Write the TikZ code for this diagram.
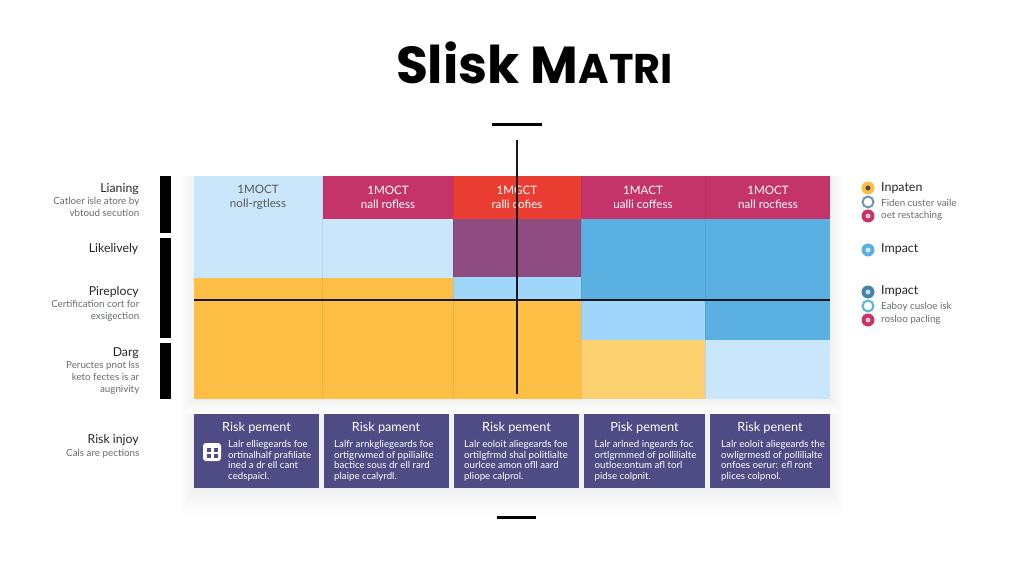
\documentclass[tikz,border=0pt]{standalone}
\usepackage{fontspec}
\setmainfont{Lato}
\newfontfamily\titlefont{Poppins}
\usetikzlibrary{calc}
\definecolor{paleblue}{HTML}{C9E6FA}
\definecolor{midblue}{HTML}{A0D6F9}
\definecolor{deepblue}{HTML}{5BB0E2}
\definecolor{crimson}{HTML}{C43468}
\definecolor{hotred}{HTML}{EA3E33}
\definecolor{plum}{HTML}{8F4C80}
\definecolor{amber}{HTML}{FCBE45}
\definecolor{sand}{HTML}{FBD06F}
\definecolor{slate}{HTML}{4F4B84}
\definecolor{greytext}{HTML}{666A70}
\tikzset{
    cell/.style={draw=none,fill=#1},
    head/.style={font=\fontsize{11.6}{13.8}\selectfont,text=white,align=center,inner sep=0pt},
    card/.style={fill=slate,draw=none},
    cardhead/.style={font=\fontsize{12.7}{14}\selectfont,text=white,inner sep=0pt},
    cardtext/.style={font=\fontsize{9.7}{10.7}\selectfont,text=white,align=left,inner sep=0pt,anchor=north west},
    lefthead/.style={font=\fontsize{12.3}{13}\selectfont,text=black!85,inner sep=0pt,anchor=east},
    lefttext/.style={font=\fontsize{9.8}{12}\selectfont,text=greytext,align=right,inner sep=0pt,anchor=north east},
    righthead/.style={font=\fontsize{12.4}{13}\selectfont,text=black!85,inner sep=0pt,anchor=west},
    righttext/.style={font=\fontsize{9.8}{12}\selectfont,text=greytext,inner sep=0pt,anchor=west},
    badge/.style={circle,draw=none,fill=#1,minimum size=13pt,inner sep=0pt},
    ringbadge/.style={circle,draw=#1,fill=white,line width=2pt,minimum size=11pt,inner sep=0pt},
    sidebar/.style={fill=black,draw=none},
    softshade/.style={fill=black,opacity=0.004,draw=none},
}
\begin{document}
\begin{tikzpicture}[x=1pt,y=-1pt]
    \useasboundingbox (0,0) rectangle (1024,585);

    % title
    \node[inner sep=0pt,font=\titlefont\bfseries\fontsize{52}{54}\selectfont] (title) at (534.5,63)
        {Slisk M{\fontsize{41.5}{54}\selectfont ATRI}};
    \draw[line width=2.5pt] (492,124.5) -- (542,124.5);
    \draw[line width=2.5pt] (497,517.5) -- (536,517.5);

    % left bars
    \foreach \ya/\yb in {176/233,238/338,343/399}
        \fill[sidebar] (160,\ya) rectangle (170.5,\yb);

    % soft shade
    \foreach \g in {1,...,14} {
        \fill[softshade] (193.5-\g,176) rectangle (830+\g,399+\g);
        \fill[softshade] (193.5-\g,414) rectangle (830+\g,488+2*\g);
    }

    % matrix cells: x1/y1/x2/y2/colour
    \foreach \xa/\ya/\xb/\yb/\col in {
        193.5/176/322.5/278/paleblue, 193.5/278/322.5/399/amber,
        322.5/176/453/219/crimson, 322.5/219/453/278/paleblue, 322.5/278/453/399/amber,
        453/176/581/219/hotred, 453/219/581/277/plum, 453/277/581/299/midblue, 453/299/581/399/amber,
        581/176/705/219/crimson, 581/219/705/299/deepblue, 581/299/705/340/midblue, 581/340/705/399/sand,
        705/176/830/219/crimson, 705/219/830/340/deepblue, 705/340/830/399/paleblue}
        \fill[cell=\col] (\xa,\ya) rectangle (\xb,\yb);
    \foreach \x in {322.5,453,581,705}
        \draw[black,opacity=0.07,line width=0.5pt] (\x,176) -- (\x,399);

    % heads
    \node[head,text=black!65] (h1) at (258,197.5) {1MOCT\\noll-rgtless};
    \node[head] (h2) at (388,197.5) {1MOCT\\nall rofless};
    \node[head] (h3) at (517,197.5) {1MGCT\\ralli cofies};
    \node[head] (h4) at (643,197.5) {1MACT\\ualli coffess};
    \node[head] (h5) at (768,197.5) {1MOCT\\nall rocfiess};

    % cross lines
    \draw[line width=2pt,black!90] (193.5,299.5) -- (830,299.5);
    \draw[line width=2pt,black!90] (517,140) -- (517,394);

    % left labels
    \node[lefthead] (lianing) at (139,189) {Lianing};
    \node[lefttext] (lianingtxt) at (139.5,197) {Catloer isle atore by\\vbtoud secution};
    \node[lefthead] (likely) at (138.5,249) {Likelively};
    \node[lefthead] (pireplocy) at (139,292) {Pireplocy};
    \node[lefttext] (pireplocytxt) at (139.5,300) {Certification cort for\\exsigection};
    \node[lefthead] (darg) at (139,353) {Darg};
    \node[lefttext] (dargtxt) at (139.5,361) {Peructes pnot lss\\keto fectes is ar\\augnivity};
    \node[lefthead] (injoy) at (139,440) {Risk injoy};
    \node[lefttext] (injoytxt) at (139.5,449) {Cals are pections};

    % right legend
    \node[badge=amber] (b1) at (868,188) {};
    \node[righthead] (l1) at (881,188.5) {Inpaten};
    \node[ringbadge=black!30!midblue] (b2) at (868,202) {};
    \node[righttext] (l2) at (881,203) {Fiden custer vaile};
    \node[badge=crimson] (b3) at (868,216) {};
    \node[righttext] (l3) at (881,215.5) {oet restaching};
    \node[badge=deepblue] (b4) at (868,250) {};
    \node[righthead] (l4) at (881,249.5) {Impact};
    \node[badge=black!25!deepblue] (b5) at (868,292) {};
    \node[righthead] (l5) at (881,291.5) {Impact};
    \node[ringbadge=deepblue] (b6) at (868,306) {};
    \node[righttext] (l6) at (881,307) {Eaboy cusloe isk};
    \node[badge=crimson] (b7) at (868,320) {};
    \node[righttext] (l7) at (881,319.5) {rosloo pacling};
    \fill[black!70] (b1) circle (2.5pt);
    \foreach \b in {b3,b4,b5,b7}
        \fill[white,opacity=0.7] (\b) circle (2.5pt);

    % bottom cards
    \foreach \xa/\xb in {193.5/319,324/449,453.5/578.5,583.5/705,710/830}
        \path[card] (\xa,414) rectangle (\xb,488);
    \node[cardhead] (t1) at (256.5,428) {Risk pement};
    \node[cardhead] (t2) at (386,428) {Risk pament};
    \node[cardhead] (t3) at (516.5,428) {Risk pement};
    \node[cardhead] (t4) at (644.5,428) {Pisk pement};
    \node[cardhead] (t5) at (770,428) {Risk penent};
    \node[cardtext] (d1) at (228,440) {Lalr elliegeards foe\\ortinalhalf prafiliate\\ined a dr ell cant\\cedspaicl.};
    \node[cardtext] (d2) at (334,440) {Lalfr arnkgliegeards foe\\ortigrwmed of ppilialite\\bactice sous dr ell rard\\plaipe ccalyrdl.};
    \node[cardtext] (d3) at (464,440) {Lalr eoloit aliegeards foe\\ortilgfrmd shal politlialte\\ourlcee amon ofll aard\\pliope calprol.};
    \node[cardtext] (d4) at (594.5,440) {Lalr arlned ingeards foc\\ortlgrmmed of pollilialte\\outloe:ontum afl torl\\pidse colpnit.};
    \node[cardtext] (d5) at (721,440) {Lalr eoloit aliegeards the\\owligrmestl of pollilialte\\onfoes oerur: efl ront\\plices colpnol.};
    \node[fill=white,rounded corners=3pt,minimum width=18pt,minimum height=18pt,inner sep=0pt] (cardicon) at (212,452) {};
    \foreach \dx in {-3.5,3.5}
        \foreach \dy in {-2.5,3.5}
            \fill[slate] ($(cardicon)+(\dx-2,\dy-2)$) rectangle ++(4,4);
\end{tikzpicture}
\end{document}
